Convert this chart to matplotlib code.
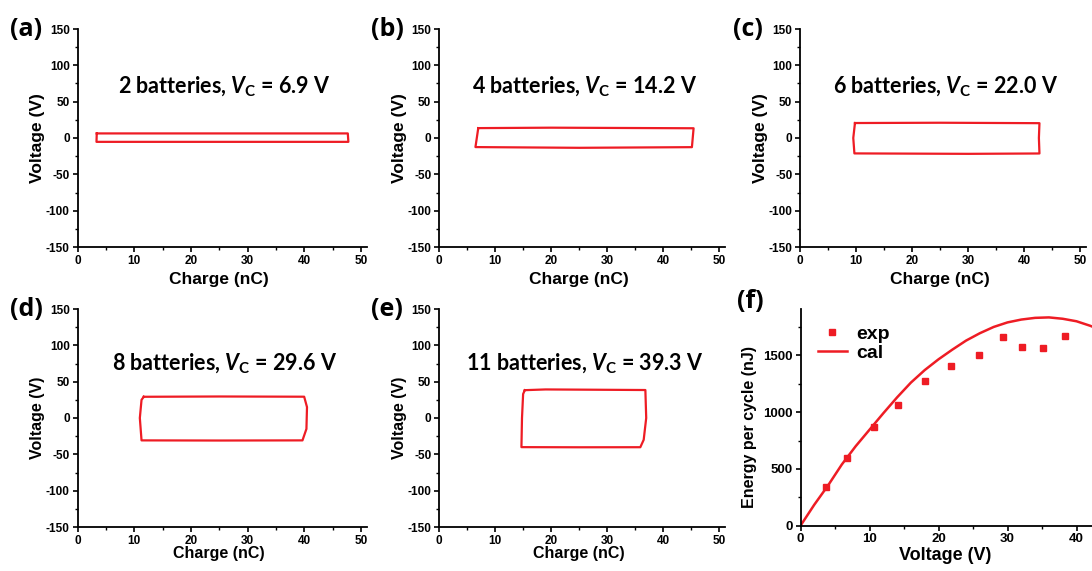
import matplotlib
matplotlib.use("Agg")
import matplotlib.pyplot as plt
from matplotlib.ticker import MultipleLocator

plt.rcParams["font.family"] = ["Liberation Sans", "DejaVu Sans"]
plt.rcParams["font.weight"] = "bold"
plt.rcParams["axes.unicode_minus"] = False
plt.rcParams["mathtext.fontset"] = "custom"
plt.rcParams["mathtext.rm"] = "Lato:bold"
plt.rcParams["mathtext.it"] = "Lato:bold:italic"
plt.rcParams["mathtext.bf"] = "Lato:bold"

RED = "#EE1C24"

# Loop data (charge nC, voltage V)
q_a = [3.4, 47.7, 47.8, 3.35, 3.4]
v_a = [6.3, 6.3, -5.3, -5.3, 6.3]

q_b = [7.0, 20.0, 45.4, 45.1, 25.0, 6.5, 7.0]
v_b = [13.6, 14.2, 13.4, -12.6, -13.5, -12.5, 13.6]

q_c = [9.8, 25.0, 42.7, 42.6, 42.7, 30.0, 9.7, 9.5, 9.8]
v_c = [20.6, 21.0, 20.4, 0.0, -21.3, -21.8, -21.2, 0.0, 20.6]

q_d = [11.7, 25.0, 40.0, 40.5, 40.4, 39.7, 25.0, 11.3, 11.0, 11.3, 11.7]
v_d = [29.2, 29.6, 29.3, 15.0, -15.0, -30.8, -31.0, -30.8, 0.0, 25.0, 29.2]

q_e = [15.3, 19.0, 36.8, 36.95, 36.5, 35.9, 25.0, 14.7, 14.8, 15.0, 15.3]
v_e = [38.3, 39.3, 38.5, 0.0, -30.0, -40.2, -40.3, -40.1, 0.0, 33.0, 38.3]

loops_q = [q_a, q_b, q_c, q_d, q_e]
loops_v = [v_a, v_b, v_c, v_d, v_e]
titles = [
    "2 batteries, $V_{\\mathrm{C}}$ = 6.9 V",
    "4 batteries, $V_{\\mathrm{C}}$ = 14.2 V",
    "6 batteries, $V_{\\mathrm{C}}$ = 22.0 V",
    "8 batteries, $V_{\\mathrm{C}}$ = 29.6 V",
    "11 batteries, $V_{\\mathrm{C}}$ = 39.3 V",
]
panel_tags = ["(a)", "(b)", "(c)", "(d)", "(e)", "(f)"]

# Panel (f): energy per cycle
v_exp = [3.7, 6.7, 10.6, 14.2, 18.1, 21.8, 25.8, 29.4, 32.1, 35.2, 38.4]
e_exp = [343, 593, 872, 1063, 1274, 1409, 1503, 1665, 1577, 1568, 1673]

v_cal = [0, 2, 4, 6, 8, 10, 12, 14, 16, 18, 20, 22, 24, 26, 28, 30,
         32, 34, 36, 38, 40, 42, 44]
e_cal = [0, 185, 355, 540, 700, 845, 990, 1130, 1260, 1370, 1465, 1550,
         1630, 1695, 1750, 1790, 1815, 1830, 1834, 1822, 1800, 1760, 1710]

W, H = 1092, 571
fig = plt.figure(figsize=(W / 100, H / 100), dpi=100, facecolor="white")


def px_axes(left, top, width, height):
    return fig.add_axes([left / W, 1 - (top + height) / H, width / W, height / H])


def style(ax, size=8.5):
    for s in ["top", "right"]:
        ax.spines[s].set_visible(False)
    for s in ["left", "bottom"]:
        ax.spines[s].set_linewidth(1.3)
    ax.tick_params(which="major", direction="out", length=3.5, width=1.2,
                   labelsize=size, pad=2)
    ax.tick_params(which="minor", direction="out", length=2, width=1.0)
    for lab in ax.get_xticklabels() + ax.get_yticklabels():
        lab.set_fontweight("bold")


# positions: (left, top) in pixels, width for 0..51 nC
boxes = [(77.5, 29, 289), (439, 29, 286), (800, 29, 286),
         (77.5, 309, 289), (439, 309, 286)]
tag_x = [10, 371, 733, 10, 371]

for i in range(5):
    left, top, width = boxes[i]
    row1 = i < 3
    ax = px_axes(left, top, width, 218)
    ax.plot(loops_q[i], loops_v[i], color=RED, lw=1.6, solid_joinstyle="round")
    ax.set_xlim(0, 51)
    ax.set_ylim(-150, 150)
    ax.xaxis.set_major_locator(MultipleLocator(10))
    ax.xaxis.set_minor_locator(MultipleLocator(5))
    ax.yaxis.set_major_locator(MultipleLocator(50))
    ax.yaxis.set_minor_locator(MultipleLocator(25))
    style(ax)
    ax.set_xlabel("Charge (nC)", fontsize=12.5 if row1 else 11.5, fontweight="bold")
    ax.xaxis.set_label_coords(25 / 51, -0.115 if row1 else -0.085)
    ax.set_ylabel("Voltage (V)", fontsize=12.5 if row1 else 11.5, fontweight="bold")
    ax.yaxis.set_label_coords(-0.112, 0.5)
    ty = 70 if row1 else 75
    ax.text(26, ty, titles[i], ha="center", va="center", fontsize=15.5,
            fontfamily="Lato", fontweight="bold")
    fig.text(tag_x[i] / W, 1 - (top + 1) / H, panel_tags[i], ha="left",
             va="center", fontsize=18, fontfamily="Open Sans", fontweight="bold")

# Panel (f)
axf = px_axes(800.5, 309, 310.5, 216.7)
axf.plot(v_cal, e_cal, color=RED, lw=1.8, label="cal")
axf.plot(v_exp, e_exp, ls="none", marker="s", ms=5, color=RED, label="exp")
axf.set_xlim(0, 45)
axf.set_ylim(0, 1908)
axf.xaxis.set_major_locator(MultipleLocator(10))
axf.xaxis.set_minor_locator(MultipleLocator(5))
axf.yaxis.set_major_locator(MultipleLocator(500))
axf.yaxis.set_minor_locator(MultipleLocator(250))
style(axf, size=9.5)
axf.set_xlabel("Voltage (V)", fontsize=13, fontweight="bold")
axf.xaxis.set_label_coords(0.5 * 42 / 45, -0.1)
axf.set_ylabel("Energy per cycle (nJ)", fontsize=11.5, fontweight="bold")
axf.yaxis.set_label_coords(-0.14, 0.455)
handles, labels = axf.get_legend_handles_labels()
axf.legend(handles[::-1], labels[::-1], loc="upper left", frameon=False,
           fontsize=14, handlelength=1.5, handletextpad=0.5, labelspacing=0.05,
           borderaxespad=0.0, bbox_to_anchor=(0.03, 0.96))
fig.text(737 / W, 1 - 301 / H, panel_tags[5], ha="left", va="center",
         fontsize=18, fontfamily="Open Sans", fontweight="bold")

fig.savefig("out.png", dpi=100, facecolor="white")
